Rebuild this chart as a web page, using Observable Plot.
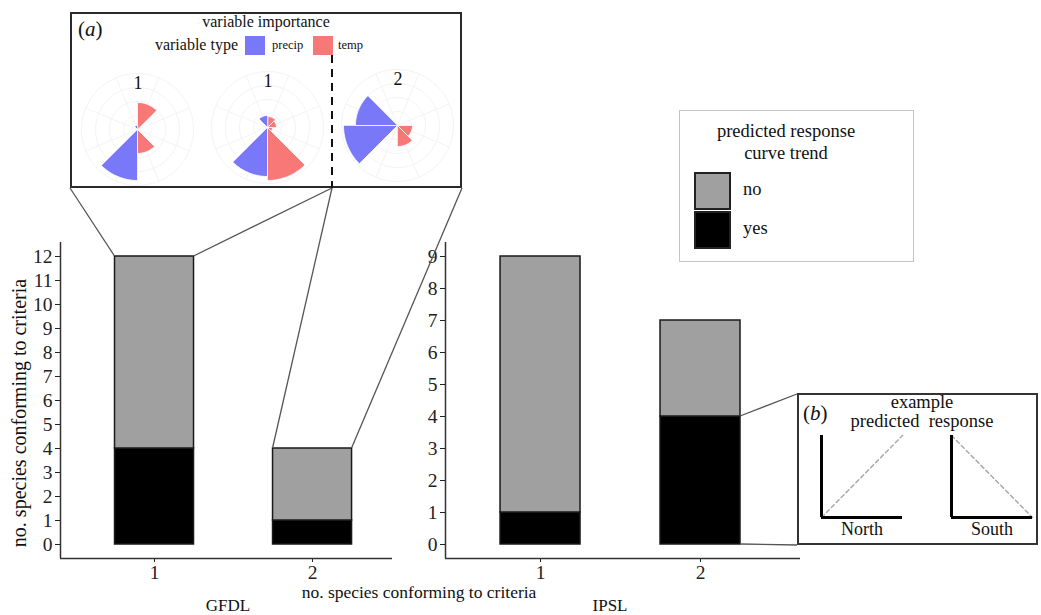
<!DOCTYPE html>
<html><head><meta charset="utf-8">
<script src="https://cdn.jsdelivr.net/npm/d3@7"></script>
<script src="https://cdn.jsdelivr.net/npm/@observablehq/plot@0.6"></script>
<style>
body{margin:0;background:#fff;}
#fig{position:relative;width:1041px;height:615px;overflow:hidden;font-family:"Liberation Serif","Times New Roman",serif;color:#111;}
.t{position:absolute;white-space:pre;line-height:1;}
.box{position:absolute;box-sizing:border-box;}
</style></head><body><div id="fig"></div>
<script>
// ---------- data ----------
const criteria = [1, 2];
const trends = ["no", "yes"];
const trendColors = ["#a0a0a0", "#000000"];
const gfdlYes = [4, 1];
const gfdlNo = [8, 3];
const ipslYes = [1, 4];
const ipslNo = [8, 3];
const gfdlTicks = [0,1,2,3,4,5,6,7,8,9,10,11,12];
const ipslTicks = [0,1,2,3,4,5,6,7,8,9];

// variable importance roses: 8 variables clockwise from north
const varTypes = ["temp","temp","temp","temp","precip","precip","precip","precip"];
const typeNames = ["precip", "temp"];
const typeColors = ["#7878f8", "#f87878"];
const roseLabels = ["1", "1", "2"];
const rose1 = [27, 1, 1, 24, 51, 0, 0, 4];
const rose2 = [11, 9, 5, 53, 49, 0, 0, 12];
const rose3 = [0, 0, 15, 21, 0, 54, 42, 0];

// example response
const regions = ["North", "South"];
const responseStart = [0, 1];
const responseEnd = [1, 0];

// ---------- helpers ----------
const fig = document.getElementById("fig");
const FONT = '"Liberation Serif","Times New Roman",serif';
function text(str, x, y, size, anchor = "middle", extra = {}) {
  const d = document.createElement("div");
  d.className = "t";
  d.textContent = str;
  d.style.fontSize = size + "px";
  d.style.left = x + "px";
  d.style.top = y + "px";
  d.style.transform = anchor === "middle" ? "translate(-50%,-50%)" : anchor === "start" ? "translate(0,-50%)" : "translate(-100%,-50%)";
  Object.assign(d.style, extra);
  fig.appendChild(d);
  return d;
}
function box(left, top, w, h, style) {
  const d = document.createElement("div");
  d.className = "box";
  Object.assign(d.style, {left: left + "px", top: top + "px", width: w + "px", height: h + "px"}, style);
  fig.appendChild(d);
  return d;
}
function place(el, left, top) {
  el.style.position = "absolute";
  el.style.left = left + "px";
  el.style.top = top + "px";
  fig.appendChild(el);
  return el;
}

// ---------- bar panels ----------
const barHalf = 0.25;
function barPanel(yes, no, ticks, xDom, yDom, width) {
  const rows = [];
  criteria.forEach((c, i) => rows.push({c, trend: "yes", n: yes[i]}));
  criteria.forEach((c, i) => rows.push({c, trend: "no", n: no[i]}));
  return Plot.plot({
    width, height: 385,
    marginLeft: 60, marginRight: 0, marginTop: 12, marginBottom: 57,
    style: {fontFamily: FONT, fontSize: "19.5px", color: "#222", background: "transparent", overflow: "visible"},
    x: {domain: xDom, ticks: criteria, tickFormat: d => String(d), tickSize: 4, tickPadding: 3, label: null},
    y: {domain: yDom, ticks, tickSize: 5, tickPadding: 3, label: null},
    color: {domain: trends, range: trendColors},
    marks: [
      Plot.ruleY([yDom[0]], {stroke: "#333", strokeWidth: 1.5}),
      Plot.ruleX([xDom[0]], {stroke: "#333", strokeWidth: 1.5}),
      Plot.rectY(rows, {x1: d => d.c - barHalf, x2: d => d.c + barHalf, y: "n", fill: "trend", stroke: "#1a1a1a", strokeWidth: 1.5, inset: 0})
    ]
  });
}
const gfdlLeft = 0, ipslLeft = 385, panelTop = 230;
const gfdl = barPanel(gfdlYes, gfdlNo, gfdlTicks, [0.405, 2.506], [-0.583, 12.583], 392);
const ipsl = barPanel(ipslYes, ipslNo, ipslTicks, [0.406, 2.625], [-0.4375, 9.4375], 415);
place(gfdl, gfdlLeft, panelTop);
place(ipsl, ipslLeft, panelTop);

text("no. species conforming to criteria", 19, 413, 20, "middle", {transform: "translate(-50%,-50%) rotate(-90deg)"});
text("no. species conforming to criteria", 419, 593, 17.5);
text("GFDL", 228, 605, 17);
text("IPSL", 610, 605, 17);

// ---------- legend ----------
box(679, 110, 235, 152, {border: "1px solid #c4c4c4", background: "#fff"});
text("predicted response", 786, 131, 18.5);
text("curve trend", 786, 153, 18.5);
["no", "yes"].forEach((t, i) => {
  box(694, 172 + i * 39, 37, 38, {background: trendColors[trends.indexOf(t)], border: "2px solid #222"});
  text(t, 743, 189 + i * 39, 18.5, "start");
});

// ---------- inset (a) ----------
box(70, 12, 392, 176, {border: "2px solid #2a2a2a", background: "#fff"});
const aLbl = text("", 78, 29, 21, "start");
aLbl.innerHTML = "(<i>a</i>)";
text("variable importance", 266, 22, 16);
text("variable type", 238, 45, 16, "end");
typeNames.forEach((t, i) => {
  box(245 + i * 68, 36, 20, 19, {background: typeColors[i]});
  text(t, 272 + i * 66, 45, 12.5, "start");
});

function rosePlot(values) {
  const R = 65;
  const rings = [];
  [14, 28, 42, 56].forEach(r => {
    for (let k = 0; k < 72; k++) {
      const a = k * 5 * Math.PI / 180;
      rings.push({ring: r, x: r * Math.sin(a), y: r * Math.cos(a)});
    }
  });
  const spokes = [];
  for (let k = 0; k < 8; k++) {
    const a = (22.5 + 45 * k) * Math.PI / 180;
    spokes.push({x2: 56 * Math.sin(a), y2: 56 * Math.cos(a)});
  }
  const wedges = [];
  values.forEach((v, i) => {
    if (!v) return;
    wedges.push({id: i, type: varTypes[i], x: 0, y: 0});
    for (let k = 0; k <= 16; k++) {
      const a = (i * 45 + 45 * k / 16) * Math.PI / 180;
      wedges.push({id: i, type: varTypes[i], x: v * Math.sin(a), y: v * Math.cos(a)});
    }
  });
  return Plot.plot({
    width: 2 * R, height: 2 * R, margin: 0,
    style: {background: "transparent", overflow: "visible"},
    x: {domain: [-R, R], axis: null},
    y: {domain: [-R, R], axis: null},
    color: {domain: typeNames, range: typeColors},
    marks: [
      Plot.line(rings, {x: "x", y: "y", z: "ring", stroke: "#f4f4f4", strokeWidth: 1, curve: "linear-closed"}),
      Plot.link(spokes, {x1: 0, y1: 0, x2: "x2", y2: "y2", stroke: "#f4f4f4", strokeWidth: 1}),
      Plot.line(wedges, {x: "x", y: "y", z: "id", fill: "type", stroke: "white", strokeWidth: 0.8, curve: "linear-closed"})
    ]
  });
}
const roseCenters = [[137, 129], [267, 127], [397, 125]];
[rose1, rose2, rose3].forEach((vals, i) => {
  const [cx, cy] = roseCenters[i];
  place(rosePlot(vals), cx - 65, cy - 65);
  text(roseLabels[i], cx + 1, cy - 46, 18);
});

// ---------- inset (b) ----------
box(797, 393, 241, 152, {border: "2px solid #333", background: "#fff"});
const bLbl = text("", 803, 413, 21, "start");
bLbl.innerHTML = "(<i>b</i>)";
text("example", 922, 402, 18.5);
text("predicted  response", 922, 421, 18.5);
const respRows = [];
regions.forEach((r, i) => {
  respRows.push({region: r, t: 0, resp: responseStart[i]});
  respRows.push({region: r, t: 1, resp: responseEnd[i]});
});
const bPlot = Plot.plot({
  width: 240, height: 150,
  marginLeft: 21, marginRight: 8, marginTop: 40, marginBottom: 28,
  style: {fontFamily: FONT, fontSize: "18px", color: "#111", background: "transparent", overflow: "visible"},
  facet: {data: respRows, x: "region"},
  fx: {domain: regions, paddingInner: 0.38, paddingOuter: 0, axis: "bottom", label: null, tickSize: 0, tickPadding: 5},
  x: {domain: [0, 1], axis: null},
  y: {domain: [0, 1], axis: null},
  marks: [
    Plot.line(respRows, {x: "t", y: "resp", stroke: "#aaaaaa", strokeWidth: 1.5, strokeDasharray: "4,3"}),
    Plot.ruleX([0], {stroke: "#000", strokeWidth: 3}),
    Plot.ruleY([0], {stroke: "#000", strokeWidth: 3})
  ]
});
place(bPlot, 800, 395);

// ---------- connectors overlay ----------
const NS = "http://www.w3.org/2000/svg";
const ov = document.createElementNS(NS, "svg");
ov.setAttribute("width", 1041); ov.setAttribute("height", 615);
ov.style.position = "absolute"; ov.style.left = "0"; ov.style.top = "0"; ov.style.pointerEvents = "none";
fig.appendChild(ov);
function seg(x1, y1, x2, y2, stroke = "#555", w = 1.3, dash = null) {
  const l = document.createElementNS(NS, "line");
  l.setAttribute("x1", x1); l.setAttribute("y1", y1); l.setAttribute("x2", x2); l.setAttribute("y2", y2);
  l.setAttribute("stroke", stroke); l.setAttribute("stroke-width", w);
  if (dash) l.setAttribute("stroke-dasharray", dash);
  ov.appendChild(l);
}
const gx = gfdl.scale("x"), gy = gfdl.scale("y");
const ix = ipsl.scale("x"), iy = ipsl.scale("y");
const gTop = (i) => panelTop + gy.apply(gfdlYes[i] + gfdlNo[i]);
const gL = (i) => gfdlLeft + gx.apply(criteria[i] - barHalf);
const gR = (i) => gfdlLeft + gx.apply(criteria[i] + barHalf);
const insetBottom = 188, insetLeft = 70, insetSplit = 332, insetRight = 462;
seg(insetLeft, insetBottom, gL(0), gTop(0));
seg(insetSplit, insetBottom, gR(0), gTop(0));
seg(insetSplit, insetBottom, gL(1), gTop(1));
seg(insetRight, insetBottom, gR(1), gTop(1));
seg(insetSplit, 55, insetSplit, insetBottom, "#111", 2, "8,6");
const ipR = ipslLeft + ix.apply(criteria[1] + barHalf);
seg(ipR, panelTop + iy.apply(ipslYes[1]), 797, 394);
seg(ipR, panelTop + iy.apply(0), 797, 545);
</script></body></html>
